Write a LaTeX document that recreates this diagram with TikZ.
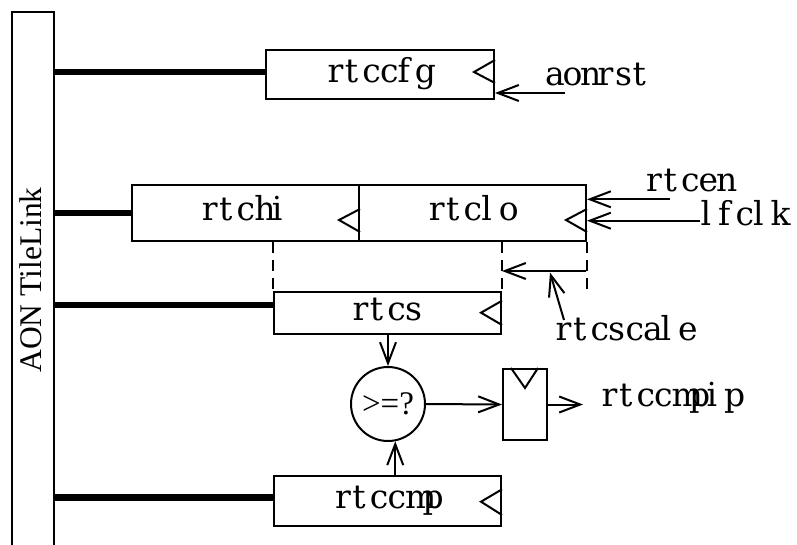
\documentclass[tikz,border=0pt]{standalone}
\usepackage{fontspec}
\setmainfont{DejaVu Serif}
\newfontfamily\tlfont{Liberation Serif}
\usetikzlibrary{arrows.meta}
\newcommand\labsize{\fontsize{33}{33}\selectfont}
\newcommand\cellbox[1]{\makebox[17.5pt][l]{#1}}
\def\monoloop#1{\ifx#1\relax\else\cellbox{#1}\expandafter\monoloop\fi}
\newcommand\mono[1]{\monoloop#1\relax}
\begin{document}
\begin{tikzpicture}[x=1pt,y=-1pt,
  box/.style={draw, line width=2pt, inner sep=0pt, text height=20pt, text depth=5pt, font=\labsize},
  lab/.style={anchor=base west, inner sep=0pt, font=\labsize},
  arr/.style={line width=2pt, -{Straight Barb[length=21pt,width=16pt]}},
  bus/.style={line width=6.5pt},
  dashln/.style={line width=2pt, dash pattern=on 11pt off 7pt},
  clk/.style={line width=2pt}]
\useasboundingbox (0,0) rectangle (797,544);
% TileLink bar
\node[draw, line width=2pt, minimum width=42pt, minimum height=548pt, inner sep=0pt] (tl) at (33,286) {};
\node[rotate=90, inner sep=0pt, font=\tlfont\fontsize{31.5}{31.5}\selectfont] (tlt) at (31,280) {AON TileLink};
% registers
\node[box, minimum width=228pt, minimum height=49pt] (cfg) at (380,74.5) {\mono{rtccfg}};
\node[box, minimum width=227pt, minimum height=56pt] (chi) at (245.5,213) {\mono{rtchi}};
\node[box, minimum width=227pt, minimum height=56pt] (clo) at (472.5,213) {\mono{rtclo}};
\node[box, minimum width=227pt, minimum height=42pt] (cs) at (387.5,313) {\mono{rtcs}};
\node[box, minimum width=227pt, minimum height=50pt] (cmp) at (387.5,501) {\mono{rtccmp}};
\node[draw, circle, line width=2pt, minimum size=74pt, inner sep=0pt, font=\tlfont\fontsize{33}{33}\selectfont] (cmpc) at (388,404) {>=?};
\node[draw, line width=2pt, minimum width=44pt, minimum height=71pt, inner sep=0pt] (ff) at (525,404.5) {};
% clock marks
\draw[clk] ([yshift=14.5pt]cfg.east) -- ++(-21,12) -- ++(21,11);
\draw[clk] ([yshift=4pt]chi.east) -- ++(-21,11) -- ++(21,12);
\draw[clk] ([yshift=4pt]clo.east) -- ++(-21,11) -- ++(21,12);
\draw[clk] ([yshift=12.3pt]cs.east) -- ++(-21,12) -- ++(21,12.3);
\draw[clk] ([yshift=11.7pt]cmp.east) -- ++(-21,12.4) -- ++(21,13.3);
\draw[clk] ([xshift=-14pt]ff.north) -- ([yshift=-20pt]ff.north) -- ([xshift=13pt]ff.north);
% buses
\coordinate (cfgB) at ([yshift=2.5pt]cfg.west);
\coordinate (csB) at ([yshift=8pt]cs.west);
\coordinate (cmpB) at ([yshift=3.3pt]cmp.west);
\draw[bus] (tl.east |- cfgB) -- (cfgB);
\draw[bus] (tl.east |- chi.west) -- (chi.west);
\draw[bus] (tl.east |- csB) -- (csB);
\draw[bus] (tl.east |- cmpB) -- (cmpB);
% external labels
\node[lab] (aon) at (545,85) {\mono{aonrst}};
\node[lab] (ren) at (646,191) {\mono{rtcen}};
\node[lab] (lfc) at (700.5,225) {\mono{lfclk}};
\node[lab] (scl) at (555.5,340) {\mono{rtcscale}};
\node[lab] (ip) at (601.5,406) {\mono{rtccmpip}};
% input arrows
\coordinate (aonS) at (565,93);
\draw[arr] (aonS) -- (aonS -| cfg.east);
\coordinate (renS) at (670,199.3);
\draw[arr] (renS) -- (renS -| clo.east);
\coordinate (lfcS) at (700,220.7);
\draw[arr] (lfcS) -- (lfcS -| clo.east);
% dashed scale marks
\draw[dashln] (cs.north west |- chi.south) -- (cs.north west);
\draw[dashln] (cs.north east |- clo.south) -- (cs.north east);
\draw[dashln] (clo.south east) -- (clo.south east |- cs.north);
\coordinate (scR) at (586,271);
\draw[arr] (scR) -- (scR -| cs.north east);
\coordinate (scP) at (564,320);
\coordinate (scQ) at (550,272.5);
\draw[arr] (scP) -- (scQ);
% compare path
\draw[arr] (cmpc.north |- cs.south) -- (cmpc.north);
\draw[arr] (cmpc.-79 |- cmp.north) -- (cmpc.-79);
\draw[arr] (cmpc.east) -- (ff.west);
\coordinate (ipS) at (583,404.5);
\draw[arr] (ff.east) -- (ipS);
\end{tikzpicture}
\end{document}
